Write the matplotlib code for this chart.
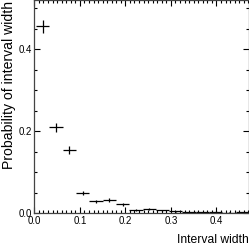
import matplotlib
matplotlib.use("Agg")
import matplotlib.pyplot as plt
from matplotlib.ticker import MultipleLocator
import numpy as np

plt.rcParams['font.family'] = ['Liberation Sans', 'DejaVu Sans']

# histogram data
bin_start = 0.004
bin_width = 0.0292
prob = [0.456, 0.210, 0.155, 0.050, 0.029, 0.032, 0.022, 0.0075,
        0.0095, 0.007, 0.005, 0.003, 0.003, 0.004, 0.0015, 0.002]
prob_err = [0.016, 0.011, 0.0093, 0.0053, 0.004, 0.0042, 0.0035, 0.002,
            0.0023, 0.002, 0.0017, 0.0013, 0.0013, 0.0015, 0.0009, 0.001]

xlabel = "Interval width"
ylabel = "Probability of interval width"

centers = bin_start + bin_width * (np.arange(len(prob)) + 0.5)

fig = plt.figure(figsize=(2.49, 2.46), dpi=100)
ax = fig.add_axes([34.3 / 249, (246 - 213.3) / 246, (248.8 - 34.3) / 249, (213.3 - 0.5) / 246])

ax.errorbar(centers, prob, xerr=bin_width / 2, yerr=prob_err, fmt='none',
            ecolor='black', elinewidth=0.9, capsize=0)

ax.set_xlim(0, 0.471)
ax.set_ylim(0, 0.519)

ax.xaxis.set_major_locator(MultipleLocator(0.1))
ax.xaxis.set_minor_locator(MultipleLocator(0.01))
ax.yaxis.set_major_locator(MultipleLocator(0.2))
ax.yaxis.set_minor_locator(MultipleLocator(0.05))
ax.xaxis.set_major_formatter(matplotlib.ticker.FormatStrFormatter('%.1f'))
ax.yaxis.set_major_formatter(matplotlib.ticker.FormatStrFormatter('%.1f'))

ax.tick_params(which='both', direction='in', top=True, right=True,
               labelsize=7, colors='black', width=0.8)
ax.tick_params(which='major', length=4.5, pad=2)
ax.tick_params(which='minor', length=2.5)
for s in ax.spines.values():
    s.set_linewidth(0.9)
    s.set_color('#444444')

fig.text(248.5 / 249, 1 - 240 / 246, xlabel, ha='right', va='center', fontsize=8.7)
fig.text(9 / 249, 1 - 1 / 246, ylabel, ha='center', va='top', rotation=90, fontsize=10.1)

fig.savefig("out.png", dpi=100)
